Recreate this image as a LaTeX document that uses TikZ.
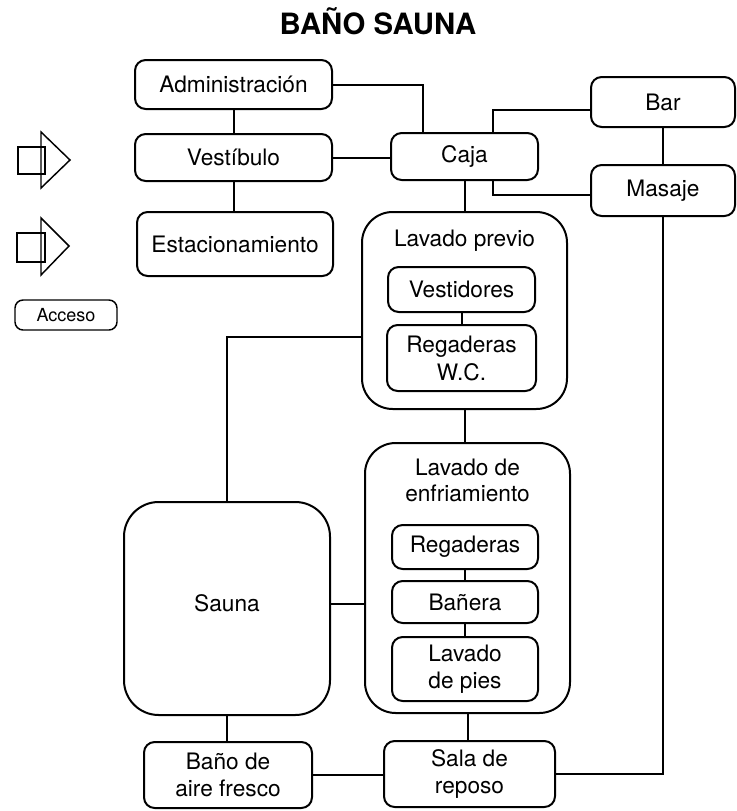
\documentclass[tikz,border=0pt]{standalone}
\usepackage{fontspec}
\setmainfont{TeX Gyre Heros}
\usetikzlibrary{calc}

\tikzset{every picture/.style={line width=1.5pt}}
\tikzset{
  sz/.style n args={2}{minimum width=#1*0.75pt, minimum height=#2*0.75pt},
  room/.style={draw, rounded corners=8pt, inner sep=0pt, align=center, font=\fontsize{17}{20}\selectfont},
  zone/.style={draw, rounded corners=23pt, inner sep=0pt},
  zonetxt/.style={inner sep=0pt, align=center, anchor=north, font=\fontsize{17}{19.5}\selectfont},
  entry/.style={line width=1.1pt}
}

\begin{document}
\begin{tikzpicture}[x=0.75pt,y=0.75pt,yscale=-1,xscale=1]
\useasboundingbox (0,0) rectangle (736,811);

% Title
\node [font=\bfseries\fontsize{22}{26}\selectfont, inner sep=0pt, anchor=base] (title) at (378,34) {BAÑO SAUNA};

%Rounded Rect -- entrance side
\node [room, sz={197}{49}] (admin) at (233.5,84.5) {Administración};
\node [room, sz={197}{47}] (vest) at (233.5,157.5) {Vestíbulo};
\node [room, sz={196}{64}] (estac) at (235,244) {Estacionamiento};
\node [room, sz={147}{47}] (caja) at (464.5,156.5) {Caja};
\node [room, sz={144}{50}] (bar) at (663,102) {Bar};
\node [room, sz={144}{51}] (masaje) at (663,190.5) {Masaje};

%Rounded Rect -- Lavado previo
\node [zone, sz={205}{197}] (lavprev) at (464.5,310.5) {};
\node [zonetxt] (lavprevtxt) at (464.5,229) {Lavado previo};
\node [room, sz={147}{45}] (vestid) at (461.5,289.5) {Vestidores};
\node [room, sz={149}{66}, font=\fontsize{17}{21}\selectfont] (regwc) at (461.5,358) {Regaderas\\W.C.};

%Rounded Rect -- Lavado de enfriamiento
\node [zone, sz={205}{270}] (lavenf) at (467.5,578) {};
\node [zonetxt] (lavenftxt) at (467.5,458) {Lavado de\\enfriamiento};
\node [room, sz={146}{44}] (regad) at (465,547) {Regaderas};
\node [room, sz={146}{42}] (banera) at (465,602) {Bañera};
\node [room, sz={146}{64}] (lavpies) at (465,669) {Lavado\\de pies};

%Rounded Rect -- Sauna and bottom row
\node [room, rounded corners=26pt, sz={206}{213}] (sauna) at (227,608.5) {};
\node [inner sep=0pt, font=\fontsize{17}{20}\selectfont] (saunatxt) at (227,603) {Sauna};
\node [room, sz={168}{66}] (banoaire) at (228,775) {Baño de\\aire fresco};
\node [room, sz={171}{66}] (sala) at (469.5,774) {Sala de\\reposo};

%Legend
\draw [entry] (18,147) rectangle (45,174) ;
\draw [entry] (41,132) -- (70,160) -- (41,188) -- cycle ;
\draw [entry] (17,233) rectangle (45,262) ;
\draw [entry] (41,218) -- (69,246) -- (41,275) -- cycle ;
\node [room, rounded corners=6pt, line width=1.1pt, sz={102}{30}, font=\fontsize{13.5}{16}\selectfont] (acceso) at (66,315) {Acceso};

%Straight Lines
\coordinate (saunaout) at ($(sauna.east)+(0,-4.5)$);
\draw (admin.south) -- (vest.north) ;
\draw (vest.south) -- (vest.south |- estac.north) ;
\draw (admin.east) -| ($(caja.north)+(-42,0)$) ;
\draw (vest.east) -- (vest.east -| caja.west) ;
\draw ($(caja.north)+(28.5,0)$) |- ($(bar.west)+(0,8)$) ;
\draw ($(caja.south)+(28.5,0)$) |- ($(masaje.west)+(0,4.5)$) ;
\draw (bar.south) -- (masaje.north) ;
\draw (caja.south) -- (lavprev.north) ;
\draw (vestid.south) -- (regwc.north) ;
\draw ($(lavprev.west)+(0,26.5)$) -| (sauna.north) ;
\draw (lavprev.south) -- (lavprev.south |- lavenf.north) ;
\draw (regad.south) -- (banera.north) ;
\draw (banera.south) -- (lavpies.north) ;
\draw (saunaout) -- (saunaout -| lavenf.west) ;
\draw (lavenf.south) -- (lavenf.south |- sala.north) ;
\draw (sauna.south) -- (sauna.south |- banoaire.north) ;
\draw (banoaire.east) -- (banoaire.east -| sala.west) ;
\draw (sala.east) -| (masaje.south) ;

\end{tikzpicture}
\end{document}
